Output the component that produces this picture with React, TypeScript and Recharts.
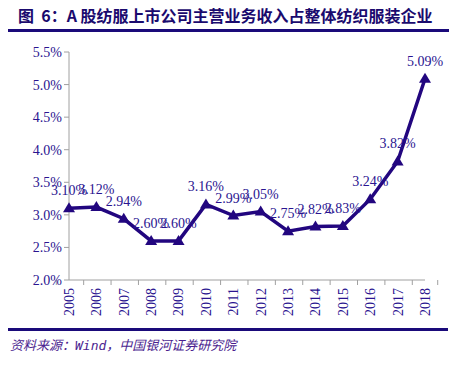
import { LineChart, Line, XAxis, YAxis, LabelList } from 'recharts';

const years = ['2005', '2006', '2007', '2008', '2009', '2010', '2011', '2012', '2013', '2014', '2015', '2016', '2017', '2018'];
const share = [3.10, 3.12, 2.94, 2.60, 2.60, 3.16, 2.99, 3.05, 2.75, 2.82, 2.83, 3.24, 3.82, 5.09];
const yTicks = [2.0, 2.5, 3.0, 3.5, 4.0, 4.5, 5.0, 5.5];

const data = years.map((year, i) => ({ year, share: share[i] }));

const NAVY = '#22067f';
const TEXT = '#2a1490';
const AXIS = '#a0a0a0';
const SERIF = '"Liberation Serif", "Times New Roman", serif';
const BAND = 356 / years.length;

const Triangle = (props: any) => {
  const { cx, cy } = props;
  if (cx == null || cy == null) return null;
  return <path d={`M${cx},${cy - 6} L${cx + 6},${cy + 4} L${cx - 6},${cy + 4} Z`} fill={NAVY} />;
};

const YearTick = (props: any) => {
  const { x, y, payload, index } = props;
  const left = x - BAND / 2;
  return (
    <g>
      <line x1={left} y1={y - 8} x2={left} y2={y - 3} stroke={AXIS} />
      {index === years.length - 1 && (
        <line x1={x + BAND / 2} y1={y - 8} x2={x + BAND / 2} y2={y - 3} stroke={AXIS} />
      )}
      <text
        transform={`translate(${x},${y}) rotate(-90)`}
        textAnchor="end"
        dy="0.35em"
        fontSize={14}
        fontFamily={SERIF}
        fill={TEXT}
      >
        {payload.value}
      </text>
    </g>
  );
};

export default function App() {
  return (
    <div style={{ position: 'absolute', left: 0, top: 0, width: 468, height: 375, background: '#fff' }}>
      <div
        style={{
          position: 'absolute',
          left: 18,
          top: 5,
          fontFamily: '"Noto Sans CJK SC", sans-serif',
          fontWeight: 700,
          fontSize: 16,
          lineHeight: '20px',
          color: '#1a0a6e',
          whiteSpace: 'nowrap',
        }}
      >
        图&nbsp;&nbsp;6：A 股纺服上市公司主营业务收入占整体纺织服装企业
      </div>
      <div style={{ position: 'absolute', left: 8, top: 29, width: 441, height: 3, background: '#1a0a7a' }} />
      <div style={{ position: 'absolute', left: 0, top: 0 }}>
        <LineChart width={468} height={375} data={data} margin={{ top: 52, right: 43, bottom: 45, left: 9 }}>
          <XAxis
            dataKey="year"
            height={50}
            stroke={AXIS}
            tickLine={false}
            tick={<YearTick />}
            interval={0}
          />
          <YAxis
            width={60}
            domain={[2.0, 5.5]}
            ticks={yTicks}
            stroke={AXIS}
            tickSize={5}
            tickFormatter={(v: number) => `${v.toFixed(1)}%`}
            tick={{ fontSize: 14, fontFamily: SERIF, fill: TEXT }}
          />
          <Line
            dataKey="share"
            stroke={NAVY}
            strokeWidth={3.5}
            dot={<Triangle />}
            activeDot={false}
            isAnimationActive={false}
          >
            <LabelList
              dataKey="share"
              position="top"
              offset={13}
              formatter={(v: any) => `${Number(v).toFixed(2)}%`}
              style={{ fontSize: 14, fontFamily: SERIF, fill: TEXT }}
            />
          </Line>
        </LineChart>
      </div>
      <div style={{ position: 'absolute', left: 8, top: 328, width: 440, height: 3, background: '#1a0a7a' }} />
      <div
        style={{
          position: 'absolute',
          left: 10,
          top: 337,
          fontFamily: '"Noto Sans CJK SC", sans-serif',
          fontStyle: 'italic',
          fontSize: 13,
          lineHeight: '16px',
          color: '#4b1e8f',
          whiteSpace: 'nowrap',
        }}
      >
        资料来源：<span style={{ fontFamily: '"DejaVu Sans Mono", monospace' }}>Wind</span>，中国银河证券研究院
      </div>
    </div>
  );
}
